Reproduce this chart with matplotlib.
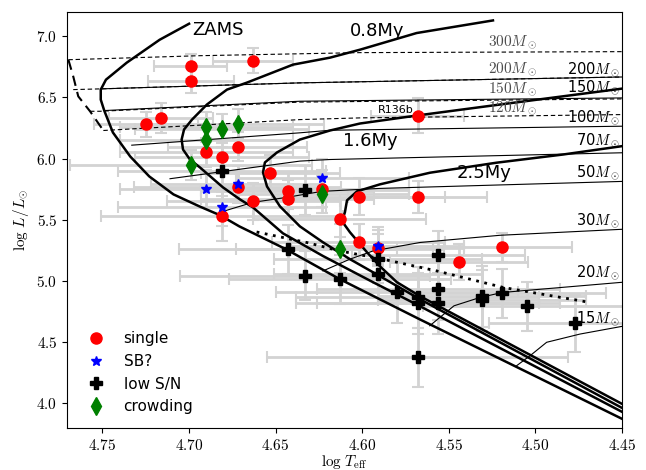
import numpy as np
import matplotlib
matplotlib.use('Agg')
import matplotlib.pyplot as plt
from matplotlib.ticker import FuncFormatter, MultipleLocator

plt.rcParams['mathtext.fontset'] = 'cm'
plt.rcParams['font.family'] = 'DejaVu Sans'

# ---- stars: log Teff, log L, errors ----
single_T = [4.699, 4.699, 4.663, 4.725, 4.716, 4.672, 4.690, 4.681, 4.653, 4.672, 4.663, 4.643,
            4.643, 4.623, 4.681, 4.613, 4.602, 4.568, 4.568, 4.602, 4.591, 4.544, 4.519]
single_L = [6.754, 6.637, 6.800, 6.279, 6.333, 6.097, 6.051, 6.015, 5.883, 5.771, 5.651, 5.737,
            5.673, 5.755, 5.531, 5.510, 5.689, 6.352, 5.689, 5.319, 5.271, 5.156, 5.276]
single_dT = [0.021, 0.025, 0.023, 0.03, 0.03, 0.04, 0.05, 0.05, 0.04, 0.06, 0.05, 0.05,
             0.05, 0.05, 0.07, 0.05, 0.05, 0.027, 0.04, 0.05, 0.05, 0.04, 0.04]
single_dL = [0.10, 0.10, 0.10, 0.10, 0.12, 0.12, 0.12, 0.12, 0.15, 0.12, 0.15, 0.15,
             0.15, 0.15, 0.20, 0.15, 0.15, 0.14, 0.13, 0.15, 0.15, 0.15, 0.12]

sb_T = [4.690, 4.672, 4.681, 4.623, 4.591]
sb_L = [5.755, 5.790, 5.602, 5.844, 5.290]
sb_dT = [0.05, 0.05, 0.06, 0.05, 0.05]
sb_dL = [0.15, 0.15, 0.15, 0.15, 0.15]

low_T = [4.681, 4.633, 4.643, 4.633, 4.613, 4.591, 4.591, 4.556, 4.580, 4.568, 4.568, 4.556,
         4.556, 4.531, 4.531, 4.519, 4.505, 4.477, 4.568]
low_L = [5.896, 5.741, 5.260, 5.042, 5.015, 5.184, 5.060, 5.211, 4.907, 4.866, 4.817, 4.934,
         4.817, 4.877, 4.844, 4.899, 4.793, 4.654, 4.377]
low_dT = [0.06, 0.06, 0.063, 0.072, 0.064, 0.06, 0.06, 0.05, 0.07, 0.07, 0.07, 0.07,
          0.07, 0.06, 0.06, 0.06, 0.06, 0.05, 0.087]
low_dL = [0.2, 0.2, 0.2, 0.2, 0.2, 0.2, 0.2, 0.2, 0.25, 0.25, 0.25, 0.25,
          0.25, 0.25, 0.25, 0.2, 0.2, 0.23, 0.24]

crowd_T = [4.690, 4.681, 4.672, 4.690, 4.699, 4.623, 4.613]
crowd_L = [6.257, 6.246, 6.287, 6.156, 5.947, 5.708, 5.266]
crowd_dT = [0.05, 0.05, 0.05, 0.05, 0.07, 0.05, 0.06]
crowd_dL = [0.12, 0.12, 0.12, 0.12, 0.12, 0.15, 0.2]

# ---- ZAMS and isochrones ----
zams_T = [4.700, 4.717, 4.736, 4.748, 4.751, 4.751, 4.749, 4.744, 4.734, 4.723, 4.709, 4.694,
          4.682, 4.671, 4.644, 4.613, 4.567, 4.450]
zams_L = [7.102, 6.971, 6.784, 6.645, 6.564, 6.482, 6.393, 6.214, 6.018, 5.855, 5.708, 5.610,
          5.537, 5.447, 5.260, 5.016, 4.689, 3.875]

iso08_T = [4.5245, 4.5686, 4.6013, 4.6186, 4.6400, 4.6666, 4.6781, 4.6897, 4.6983, 4.7029, 4.7043,
           4.7035, 4.6995, 4.6937, 4.6804, 4.6706, 4.6631, 4.6458, 4.6227, 4.5938, 4.5667, 4.450]
iso08_L = [7.129, 7.026, 6.890, 6.825, 6.768, 6.621, 6.564, 6.442, 6.319, 6.238, 6.156,
           6.075, 5.993, 5.928, 5.765, 5.667, 5.602, 5.390, 5.205, 4.991, 4.795, 3.932]

iso16_T = [4.450, 4.5205, 4.5686, 4.6013, 4.6186, 4.6360, 4.6492, 4.6562, 4.6573, 4.6550, 4.6475,
           4.6360, 4.6227, 4.6071, 4.5898, 4.5667, 4.450]
iso16_L = [6.572, 6.442, 6.352, 6.287, 6.230, 6.156, 6.051, 5.969, 5.888, 5.773, 5.610,
           5.447, 5.317, 5.179, 5.040, 4.852, 3.964]

iso25_T = [4.450, 4.4839, 4.5224, 4.5609, 4.5898, 4.6030, 4.6088, 4.6100, 4.6117, 4.6071, 4.5973,
           4.5898, 4.5800, 4.5667, 4.450]
iso25_L = [6.102, 6.034, 5.967, 5.885, 5.790, 5.733, 5.659, 5.562, 5.489, 5.399, 5.236,
           5.121, 4.991, 4.877, 3.997]

# ---- evolutionary tracks (solid) ----
tracks = {
    200: ([4.751, 4.636, 4.450], [6.570, 6.619, 6.667]),
    150: ([4.7486, 4.636, 4.450], [6.393, 6.469, 6.496]),
    100: ([4.7331, 4.636, 4.6186, 4.450], [6.110, 6.211, 6.232, 6.265]),
    70: ([4.711, 4.636, 4.6186, 4.450], [5.836, 5.980, 5.993, 6.048]),
    50: ([4.6821, 4.6631, 4.6435, 4.6232, 4.5898, 4.450], [5.562, 5.643, 5.684, 5.733, 5.757, 5.814]),
    30: ([4.6227, 4.6071, 4.5938, 4.5667, 4.5205, 4.450], [5.083, 5.179, 5.246, 5.315, 5.374, 5.423]),
    20: ([4.561, 4.547, 4.532, 4.519, 4.450], [4.635, 4.798, 4.866, 4.907, 4.990]),
    15: ([4.5108, 4.5031, 4.4935, 4.4743, 4.450], [4.309, 4.390, 4.500, 4.567, 4.630]),
}
track_label_L = {200: 6.727, 150: 6.578, 100: 6.333, 70: 6.143, 50: 5.885, 30: 5.491, 20: 5.070, 15: 4.689}

# ---- dashed (very massive) tracks ----
vms_zams_T = [4.7697, 4.7669, 4.7640, 4.7572, 4.7495]
vms_zams_L = [6.808, 6.672, 6.509, 6.387, 6.230]
vms_tracks = {
    300: ([4.7697, 4.6937, 4.6013, 4.450], [6.808, 6.841, 6.866, 6.874]),
    200: ([4.7669, 4.751, 4.636, 4.450], [6.564, 6.570, 6.619, 6.667]),
    150: ([4.7572, 4.7514, 4.636, 4.450], [6.387, 6.387, 6.462, 6.488]),
    120: ([4.7495, 4.636, 4.601, 4.450], [6.230, 6.319, 6.333, 6.360]),
}
vms_label_L = {300: 6.947, 200: 6.727, 150: 6.564, 120: 6.415}

dotted_T = [4.661, 4.632, 4.6129, 4.5898, 4.557, 4.5186, 4.4704]
dotted_L = [5.401, 5.315, 5.246, 5.184, 5.083, 4.948, 4.830]

fig = plt.figure(figsize=(6.46, 4.70), dpi=100)
ax = fig.add_axes([0.1037, 0.0894, 0.8591, 0.8851])

ebkw = dict(fmt='none', ecolor='#d3d3d3', elinewidth=2, capsize=4, capthick=1.5, zorder=1)
for T, L, dT, dL in [(single_T, single_L, single_dT, single_dL), (sb_T, sb_L, sb_dT, sb_dL),
                     (low_T, low_L, low_dT, low_dL), (crowd_T, crowd_L, crowd_dT, crowd_dL)]:
    ax.errorbar(T, L, xerr=dT, yerr=dL, **ebkw)

for m, (T, L) in tracks.items():
    ax.plot(T, L, color='k', lw=0.8, zorder=2)
    ax.text(4.4512, track_label_L[m], f'{m}$M_\\odot$', ha='right', va='center', fontsize=10.5, zorder=5)

ax.plot(vms_zams_T, vms_zams_L, color='k', lw=1.5, ls=(0, (5, 3)), zorder=2)
for m, (T, L) in vms_tracks.items():
    ax.plot(T, L, color='k', lw=0.8, ls=(0, (4, 2.5)), zorder=2)
    ax.text(4.513, vms_label_L[m], f'$\\mathit{{{m}}}M_\\odot$', ha='center', va='center',
            fontsize=11, color='0.3', zorder=5)

for T, L in [(zams_T, zams_L), (iso08_T, iso08_L), (iso16_T, iso16_L), (iso25_T, iso25_L)]:
    ax.plot(T, L, color='k', lw=1.8, zorder=3)
ax.plot(dotted_T, dotted_L, color='k', lw=2, ls=(0, (1, 2)), zorder=3)

ax.plot(single_T, single_L, 'o', color='red', ms=8, ls='none', label='single', zorder=4)
ax.plot(sb_T, sb_L, '*', color='blue', ms=7, ls='none', label='SB?', zorder=4)
ax.plot(low_T, low_L, 'P', color='black', ms=8, ls='none', label='low S/N', zorder=4)
ax.plot(crowd_T, crowd_L, 'd', color='green', ms=9, ls='none', label='crowding', zorder=4)

ax.text(4.698, 7.053, 'ZAMS', fontsize=13, ha='left', va='center')
ax.text(4.6071, 7.039, '0.8My', fontsize=13, ha='left', va='center')
ax.text(4.611, 6.143, '1.6My', fontsize=13, ha='left', va='center')
ax.text(4.5455, 5.885, '2.5My', fontsize=13, ha='left', va='center')
ax.text(4.5907, 6.401, 'R136b', fontsize=8, ha='left', va='center')

ax.set_xlim(4.7705, 4.45)
ax.set_ylim(3.80, 7.198)
ax.xaxis.set_major_locator(MultipleLocator(0.05))
ax.yaxis.set_major_locator(MultipleLocator(0.5))
ax.xaxis.set_major_formatter(FuncFormatter(lambda v, p: f'${v:.2f}$'))
ax.yaxis.set_major_formatter(FuncFormatter(lambda v, p: f'${v:.1f}$'))
ax.tick_params(labelsize=11)
ax.set_xlabel(r'$\log\,T_{\rm eff}$', fontsize=11, labelpad=0)
ax.set_ylabel(r'$\log\,L/L_{\odot}$', fontsize=11)

ax.legend(loc='lower left', frameon=False, fontsize=11, numpoints=1, handletextpad=0.8,
          borderaxespad=0.5)

fig.savefig('out.png', dpi=100)
